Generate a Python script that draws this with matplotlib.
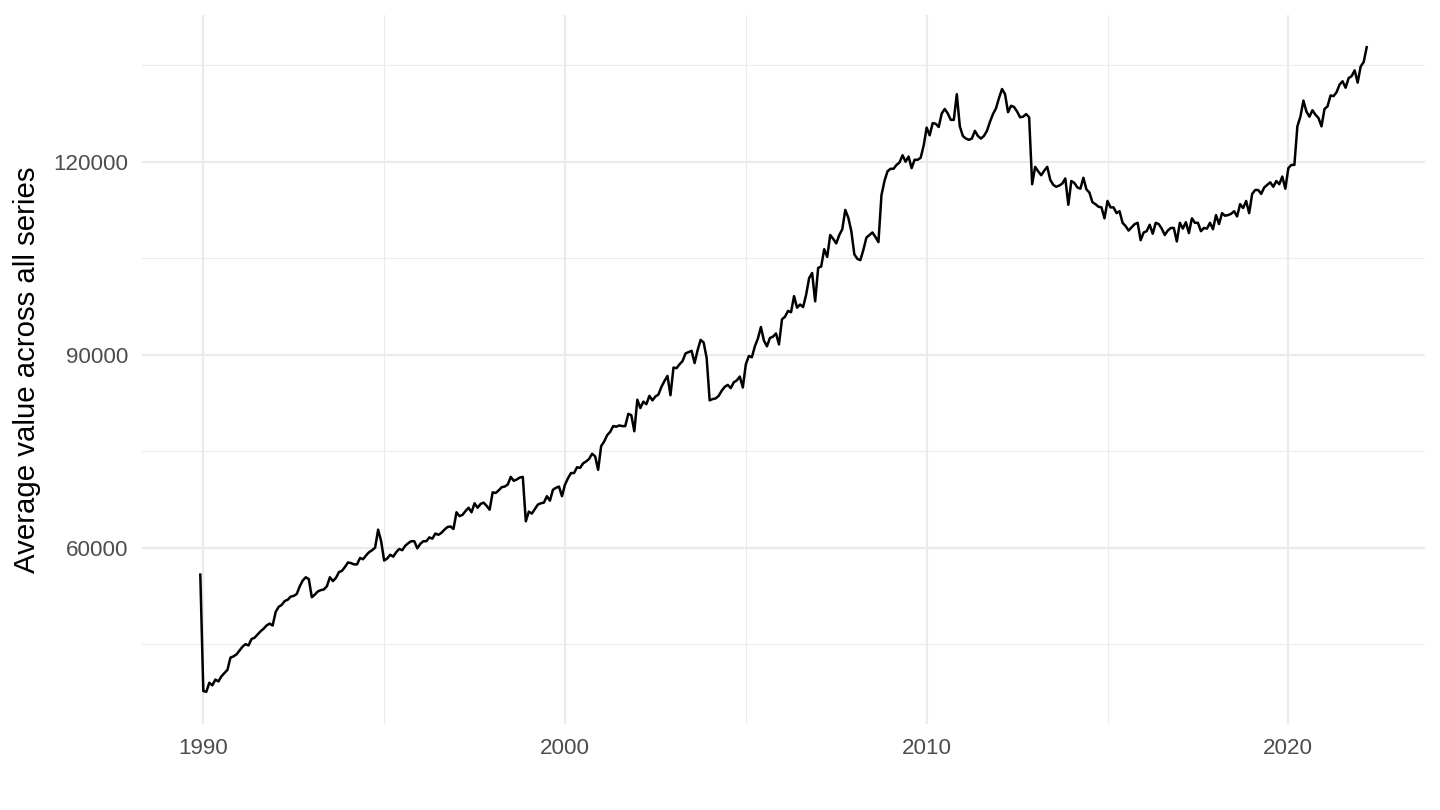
import numpy as np
import matplotlib.pyplot as plt

plt.rcParams['font.family'] = ['Liberation Sans', 'DejaVu Sans']

# monthly averages, in thousands; series starts December 1989
v1989 = [55.8]
v1990 = [37.7, 37.6, 39.0, 38.6, 39.5, 39.2, 40.0, 40.5, 41.0, 42.9, 43.1, 43.4]
v1991 = [44.0, 44.6, 45.0, 44.8, 45.8, 46.0, 46.5, 47.0, 47.4, 47.9, 48.2, 47.9]
v1992 = [50.0, 50.8, 51.1, 51.7, 51.9, 52.4, 52.5, 52.8, 54.0, 54.9, 55.4, 55.1]
v1993 = [52.3, 52.7, 53.2, 53.4, 53.5, 54.0, 55.4, 54.8, 55.3, 56.2, 56.4, 57.0]
v1994 = [57.7, 57.6, 57.4, 57.4, 58.4, 58.2, 58.8, 59.3, 59.6, 60.0, 62.8, 61.0]
v1995 = [58.0, 58.3, 58.9, 58.6, 59.3, 59.8, 59.6, 60.3, 60.7, 61.0, 61.0, 59.9]
v1996 = [60.6, 61.0, 61.0, 61.6, 61.4, 62.2, 62.0, 62.3, 62.8, 63.2, 63.3, 62.9]
v1997 = [65.5, 64.9, 65.1, 65.7, 66.2, 65.5, 66.9, 66.2, 66.8, 67.0, 66.5, 65.9]
v1998 = [68.6, 68.5, 68.9, 69.4, 69.5, 69.8, 71.0, 70.4, 70.6, 70.9, 71.0, 64.1]
v1999 = [65.6, 65.3, 66.0, 66.7, 66.9, 67.0, 68.0, 67.3, 69.0, 69.3, 69.5, 68.0]
v2000 = [69.8, 70.8, 71.6, 71.6, 72.5, 72.4, 73.1, 73.4, 73.8, 74.6, 74.2, 72.1]
v2001 = [75.8, 76.5, 77.5, 78.0, 78.9, 78.8, 79.0, 78.9, 78.9, 80.8, 80.6, 78.1]
v2002 = [83.0, 81.7, 82.7, 82.3, 83.6, 82.9, 83.5, 83.8, 85.0, 85.9, 86.7, 83.7]
v2003 = [88.0, 87.9, 88.5, 89.0, 90.2, 90.4, 90.6, 88.7, 90.7, 92.3, 91.9, 89.5]
v2004 = [82.9, 83.1, 83.2, 83.6, 84.4, 85.0, 85.3, 84.8, 85.7, 86.0, 86.6, 84.9]
v2005 = [88.5, 89.8, 89.6, 91.3, 92.5, 94.3, 92.2, 91.3, 92.6, 92.8, 93.3, 91.6]
v2006 = [95.5, 95.9, 96.8, 96.6, 99.1, 97.3, 97.8, 97.4, 99.3, 101.9, 102.7, 98.3]
v2007 = [103.5, 103.7, 106.4, 105.2, 108.6, 108.0, 107.3, 108.6, 109.5, 112.5, 111.3, 109.2]
v2008 = [105.6, 104.9, 104.7, 106.3, 108.2, 108.6, 109.0, 108.3, 107.5, 114.8, 117.0, 118.5]
v2009 = [118.9, 118.9, 119.5, 119.9, 121.0, 120.0, 120.8, 119.0, 120.3, 120.3, 120.6, 122.5]
v2010 = [125.3, 124.1, 126.0, 125.9, 125.4, 127.5, 128.2, 127.5, 126.5, 126.5, 130.5, 125.5]
v2011 = [124.0, 123.6, 123.4, 123.6, 124.8, 124.0, 123.6, 124.0, 124.8, 126.2, 127.4, 128.3]
v2012 = [129.9, 131.3, 130.5, 127.7, 128.7, 128.5, 127.8, 126.9, 127.0, 127.4, 126.9, 116.5]
v2013 = [119.2, 118.5, 117.9, 118.6, 119.2, 117.2, 116.4, 116.1, 116.3, 116.6, 117.4, 113.3]
v2014 = [117.0, 116.7, 116.0, 115.8, 117.5, 115.7, 115.2, 113.7, 113.4, 113.0, 112.9, 111.2]
v2015 = [113.9, 112.9, 112.9, 112.0, 112.3, 110.5, 110.0, 109.3, 109.8, 110.3, 110.5, 107.8]
v2016 = [109.0, 109.2, 110.2, 108.8, 110.5, 110.3, 109.6, 108.6, 109.3, 109.7, 109.7, 107.6]
v2017 = [110.5, 109.6, 110.6, 108.9, 111.2, 110.5, 110.5, 109.2, 109.7, 109.6, 110.5, 109.5]
v2018 = [111.7, 110.3, 112.0, 111.6, 111.7, 111.9, 112.3, 111.5, 113.4, 112.8, 113.9, 112.0]
v2019 = [115.0, 115.6, 115.6, 115.0, 116.0, 116.4, 116.8, 116.1, 117.0, 116.5, 117.7, 115.8]
v2020 = [119.0, 119.5, 119.5, 125.5, 127.0, 129.5, 127.8, 127.0, 128.0, 127.3, 126.8, 125.5]
v2021 = [128.2, 128.6, 130.3, 130.2, 130.8, 132.0, 132.5, 131.5, 133.0, 133.3, 134.2, 132.3]
v2022 = [134.8, 135.5, 137.8]

x_ticks = [1990, 2000, 2010, 2020]
x_minor = [1995, 2005, 2015]
y_ticks = [60000, 90000, 120000]
y_minor = [45000, 75000, 105000, 135000]
y_title = "Average value across all series"

values = np.concatenate([v1989, v1990, v1991, v1992, v1993, v1994, v1995, v1996,
                         v1997, v1998, v1999, v2000, v2001, v2002, v2003, v2004,
                         v2005, v2006, v2007, v2008, v2009, v2010, v2011, v2012,
                         v2013, v2014, v2015, v2016, v2017, v2018, v2019, v2020,
                         v2021, v2022]) * 1000
dates = 1989 + 11 / 12 + np.arange(len(values)) / 12

fig = plt.figure(figsize=(10, 5.625), dpi=144)
ax = fig.add_axes([0.0986, 0.1062, 0.891, 0.8753])

ax.plot(dates, values, color="black", lw=1.25, solid_joinstyle="round")

# ggplot-style 5% expansion
xr = dates.max() - dates.min()
yr = values.max() - values.min()
ax.set_xlim(dates.min() - 0.05 * xr, dates.max() + 0.05 * xr)
ax.set_ylim(values.min() - 0.05 * yr, values.max() + 0.05 * yr)

ax.set_xticks(x_ticks)
ax.set_xticks(x_minor, minor=True)
ax.set_yticks(y_ticks)
ax.set_yticks(y_minor, minor=True)
ax.set_xticklabels([str(t) for t in x_ticks])
ax.set_yticklabels([str(t) for t in y_ticks])

ax.grid(which="major", color="#EBEBEB", lw=1.1)
ax.grid(which="minor", color="#EBEBEB", lw=0.55)
ax.set_axisbelow(True)
for s in ax.spines.values():
    s.set_visible(False)

ax.tick_params(which="both", length=0)
ax.tick_params(axis="y", pad=7, labelsize=11.2, labelcolor="#4D4D4D")
ax.tick_params(axis="x", pad=7, labelsize=11.2, labelcolor="#4D4D4D")
ax.set_ylabel(y_title, fontsize=14.7, color="black", labelpad=6)

fig.savefig("out.png", dpi=144, facecolor="white")
